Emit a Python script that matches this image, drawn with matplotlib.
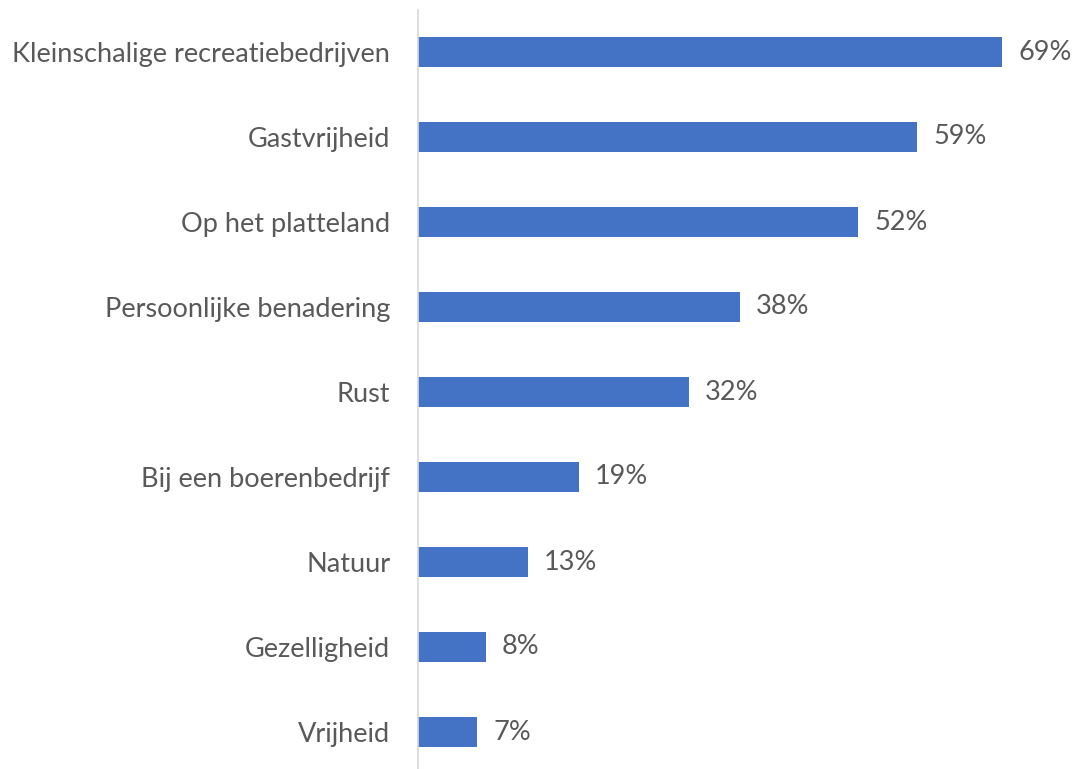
import matplotlib
matplotlib.use("Agg")
import matplotlib.pyplot as plt

categories = ["Kleinschalige recreatiebedrijven", "Gastvrijheid", "Op het platteland",
              "Persoonlijke benadering", "Rust", "Bij een boerenbedrijf", "Natuur",
              "Gezelligheid", "Vrijheid"]
values = [69, 59, 52, 38, 32, 19, 13, 8, 7]
value_labels = ["69%", "59%", "52%", "38%", "32%", "19%", "13%", "8%", "7%"]

plt.rcParams['font.family'] = ['Lato', 'DejaVu Sans']
W, H = 1073, 769
fig = plt.figure(figsize=(W/100, H/100), dpi=100)
ax_left = 418 / W
top_px, bottom_px = 9.5, 774.5
ax = fig.add_axes([ax_left, 1 - bottom_px / H, 1 - ax_left, (bottom_px - top_px) / H])

n = len(categories)
ypos = list(range(n))
ax.barh(ypos, values, height=0.36, color="#4472C4")
ax.set_ylim(n - 0.5, -0.5)
px_per_unit = (1002 - 418) / 69
ax.set_xlim(0, (W - 418) / px_per_unit)

for y, v, lab in zip(ypos, values, value_labels):
    ax.text(v + 1.9, y, lab, va="center", ha="left", fontsize=19.5, color="#595959")

ax.set_yticks(ypos)
ax.set_yticklabels(categories, fontsize=19.5, color="#595959")
ax.tick_params(axis="y", length=0, pad=20)
ax.set_xticks([])
for s in ["top", "right", "bottom"]:
    ax.spines[s].set_visible(False)
ax.spines["left"].set_color("#d9d9d9")
ax.spines["left"].set_linewidth(1.2)

fig.savefig("out.png", dpi=100)
